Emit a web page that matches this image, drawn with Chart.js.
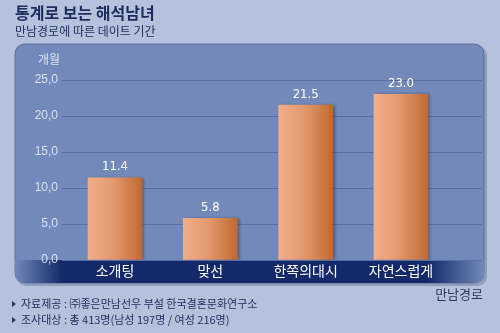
<!DOCTYPE html>
<html><head><meta charset="utf-8">
<script src="https://cdn.jsdelivr.net/npm/chart.js@4.4.1/dist/chart.umd.min.js"></script>
<style>
html,body{margin:0;padding:0;background:#b5c1dd;}
#wrap{position:relative;width:500px;height:333px;}
canvas{display:block;}
</style></head>
<body><div id="wrap"><canvas id="c" width="500" height="333"></canvas></div>
<script>
const title = "통계로 보는 해석남녀";
const subtitle = "만남경로에 따른 데이트 기간";
const unitLabel = "개월";
const axisName = "만남경로";
const notes = ["자료제공 : ㈜좋은만남선우 부설 한국결혼문화연구소", "조사대상 : 총 413명(남성 197명 / 여성 216명)"];
const categories = ["소개팅", "맞선", "한쪽의대시", "자연스럽게"];
const months = [11.4, 5.8, 21.5, 23.0];
const yTicks = [0, 5, 10, 15, 20, 25];

const KR = '"Noto Sans CJK KR", "Noto Sans", sans-serif';

function rr(ctx, x, y, w, h, r) {
  ctx.beginPath();
  ctx.moveTo(x + r, y);
  ctx.lineTo(x + w - r, y); ctx.quadraticCurveTo(x + w, y, x + w, y + r);
  ctx.lineTo(x + w, y + h - r); ctx.quadraticCurveTo(x + w, y + h, x + w - r, y + h);
  ctx.lineTo(x + r, y + h); ctx.quadraticCurveTo(x, y + h, x, y + h - r);
  ctx.lineTo(x, y + r); ctx.quadraticCurveTo(x, y, x + r, y);
  ctx.closePath();
}

const bgPlugin = {
  id: 'bg',
  beforeDraw(chart) {
    const ctx = chart.ctx;
    ctx.save();
    ctx.fillStyle = '#b5c1dd';
    ctx.fillRect(0, 0, 500, 333);
    ctx.fillStyle = '#1c2c5c';
    ctx.textBaseline = 'alphabetic';
    ctx.textAlign = 'left';
    ctx.font = 'bold 16px ' + KR;
    ctx.fillText(title, 15, 19);
    ctx.font = '12px ' + KR;
    ctx.fillText(subtitle, 15, 36);
    ctx.fillStyle = 'rgba(120,135,170,0.6)';
    rr(ctx, 17, 46, 470, 240, 11); ctx.fill();
    ctx.fillStyle = '#7289b9';
    rr(ctx, 15, 44, 469, 239, 11); ctx.fill();
    ctx.strokeStyle = '#5a6f9f';
    ctx.lineWidth = 1;
    ctx.stroke();
    ctx.save();
    rr(ctx, 15, 44, 469, 239, 11); ctx.clip();
    const g = ctx.createLinearGradient(15, 0, 484, 0);
    g.addColorStop(0, '#7289b9');
    g.addColorStop(0.1, '#14296a');
    g.addColorStop(0.88, '#14296a');
    g.addColorStop(1, '#7289b9');
    ctx.fillStyle = g;
    ctx.fillRect(15, 260, 469, 24);
    ctx.restore();
    ctx.fillStyle = '#dbe2f1';
    ctx.font = '12px ' + KR;
    ctx.textAlign = 'left';
    ctx.textBaseline = 'middle';
    ctx.fillText(unitLabel, 38, 59);
    ctx.fillStyle = '#2a3562';
    ctx.font = '13px ' + KR;
    ctx.textAlign = 'right';
    ctx.fillText(axisName, 483, 294);
    ctx.textAlign = 'left';
    ctx.font = '11px ' + KR;
    notes.forEach((n, i) => {
      const y = 304 + i * 16;
      ctx.fillStyle = '#2a3562';
      ctx.beginPath();
      ctx.moveTo(12, y - 3); ctx.lineTo(16, y); ctx.lineTo(12, y + 3); ctx.closePath(); ctx.fill();
      ctx.fillStyle = '#1c2c5c';
      ctx.fillText(n, 21, y);
    });
    ctx.restore();
  },
  beforeDatasetsDraw(chart) {
    const ctx = chart.ctx;
    ctx.save();
    ctx.shadowColor = 'rgba(20,30,70,0.45)';
    ctx.shadowBlur = 3;
    ctx.shadowOffsetX = 2;
    ctx.shadowOffsetY = 0;
  },
  afterDatasetsDraw(chart) {
    const ctx = chart.ctx;
    ctx.restore();
    ctx.save();
    ctx.fillStyle = '#ffffff';
    ctx.font = '13px "Liberation Sans Narrow", "DejaVu Sans Condensed", Arial, sans-serif';
    ctx.textAlign = 'center';
    ctx.textBaseline = 'middle';
    chart.getDatasetMeta(0).data.forEach((el, i) => {
      ctx.fillText(months[i].toFixed(1), el.x, el.y - 11);
    });
    ctx.restore();
  }
};

const ctx = document.getElementById('c').getContext('2d');
new Chart(ctx, {
  type: 'bar',
  data: {
    datasets: [{
      data: months.map((v, i) => ({ x: i, y: v })),
      barThickness: 54,
      borderWidth: 0,
      backgroundColor(c) {
        const chart = c.chart;
        const xs = chart.scales.x;
        if (!xs || c.dataIndex === undefined) return '#e09868';
        const cx = xs.getPixelForValue(c.dataIndex);
        if (!isFinite(cx)) return '#e09868';
        const g = chart.ctx.createLinearGradient(cx - 27, 0, cx + 27, 0);
        g.addColorStop(0, '#f0ae8a');
        g.addColorStop(0.45, '#e49a70');
        g.addColorStop(1, '#c06a32');
        return g;
      }
    }]
  },
  options: {
    responsive: false,
    animation: false,
    devicePixelRatio: 1,
    layout: { padding: { left: 0, right: 18, top: 80, bottom: 0 } },
    plugins: { legend: { display: false }, tooltip: { enabled: false } },
    scales: {
      x: {
        type: 'linear',
        offset: false,
        min: -0.556, max: 3.85,
        grid: { display: false, drawTicks: false },
        border: { display: false },
        afterBuildTicks(s) { s.ticks = categories.map((_, i) => ({ value: i })); },
        afterFit(s) { s.height = 73; },
        ticks: {
          padding: 2,
          color: '#ffffff',
          font: { family: KR, size: 14 },
          maxRotation: 0,
          autoSkip: false,
          callback: (v) => categories[v]
        }
      },
      y: {
        min: 0, max: 25,
        afterBuildTicks(s) { s.ticks = yTicks.map(v => ({ value: v })); },
        afterFit(s) { s.width = 62; },
        grid: { color: '#5670a6', lineWidth: 1, drawTicks: false },
        border: { display: false },
        ticks: {
          padding: 4,
          color: '#dbe2f1',
          font: { family: '"Liberation Sans Narrow", Arial, sans-serif', size: 12 },
          callback: (v) => v.toFixed(1).replace('.', ',')
        }
      }
    }
  },
  plugins: [bgPlugin]
});
</script></body></html>
